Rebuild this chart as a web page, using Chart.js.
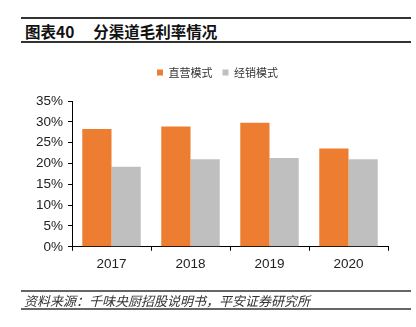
<!DOCTYPE html>
<html lang="zh">
<head>
<meta charset="UTF-8">
<title>分渠道毛利率情况</title>
<script src="https://cdn.jsdelivr.net/npm/chart.js"></script>
<style>
    html, body { margin: 0; padding: 0; background: #fff; }
    #page { position: relative; width: 416px; height: 327px; overflow: hidden; }
    #chartBox { position: absolute; left: 0; top: 0; width: 416px; height: 327px; }
    .rule { position: absolute; left: 21px; width: 390px; background: #333; }
    #title {
        position: absolute; left: 25px; top: 20px; height: 22px; line-height: 22px;
        font-family: "Noto Sans CJK SC", sans-serif; font-weight: bold; font-size: 15.5px; color: #111;
        white-space: nowrap;
    }
    #title .name { margin-left: 19px; }
    #source {
        position: absolute; left: 24px; top: 292px; height: 17px; line-height: 17px;
        font-family: "Noto Sans CJK SC", sans-serif; font-style: italic; font-size: 13px; color: #333;
        white-space: nowrap;
    }
</style>
</head>
<body>
<div id="page">
    <div class="rule" style="top:17px;height:1.5px;"></div>
    <div id="title"><span>图表40</span><span class="name">分渠道毛利率情况</span></div>
    <div class="rule" style="top:41px;height:2px;"></div>

    <div id="chartBox"><canvas id="marginChart"></canvas></div>

    <div class="rule" style="top:290px;height:1.5px;background:#666;"></div>
    <div id="source">资料来源：千味央厨招股说明书，平安证券研究所</div>
    <div class="rule" style="top:308px;height:1.5px;background:#666;"></div>
</div>

<script>
// gross margin by sales channel, in %
var years = ['2017', '2018', '2019', '2020'];
var directMargin = [28.3, 28.9, 29.8, 23.6];
var dealerMargin = [19.2, 21.0, 21.3, 21.0];
var yTicks = [0, 5, 10, 15, 20, 25, 30, 35];

var tickFont = { family: '"Liberation Sans", Arial, sans-serif', size: 13.5 };

// extra space under the legend, and nudge it right so it sits over the bars
var legendTweak = {
    id: 'legendTweak',
    beforeInit: function(chart) {
        var origFit = chart.legend.fit;
        chart.legend.fit = function() {
            origFit.bind(chart.legend)();
            this.height += 13;
        };
    },
    afterLayout: function(chart) {
        chart.legend.left += 8;
        chart.legend.right += 8;
    }
};

new Chart(document.getElementById('marginChart'), {
    type: 'bar',
    data: {
        labels: years,
        datasets: [
            { label: '直营模式', data: directMargin, backgroundColor: '#ED7D31' },
            { label: '经销模式', data: dealerMargin, backgroundColor: '#BFBFBF' }
        ]
    },
    options: {
        responsive: true,
        maintainAspectRatio: false,
        animation: false,
        datasets: { bar: { categoryPercentage: 0.74, barPercentage: 1.0 } },
        layout: { padding: { left: 31, right: 28, top: 57, bottom: 50 } },
        plugins: {
            legend: {
                position: 'top',
                labels: {
                    boxWidth: 6, boxHeight: 6, padding: 10, color: '#333',
                    font: { family: '"Noto Sans CJK SC", sans-serif', size: 11 }
                }
            },
            tooltip: { enabled: false }
        },
        scales: {
            x: {
                grid: { drawOnChartArea: false, tickLength: 4, color: '#000' },
                border: { color: '#000', width: 1 },
                ticks: { color: '#222', font: tickFont, padding: 5 }
            },
            y: {
                min: 0, max: 35,
                afterBuildTicks: function(scale) { scale.ticks = yTicks.map(function(v) { return { value: v }; }); },
                grid: { drawOnChartArea: false, tickLength: 4, color: '#000' },
                border: { color: '#000', width: 1 },
                ticks: {
                    color: '#222', font: tickFont, padding: 5, autoSkip: false,
                    callback: function(v) { return v + '%'; }
                }
            }
        }
    },
    plugins: [legendTweak]
});
</script>
</body>
</html>
